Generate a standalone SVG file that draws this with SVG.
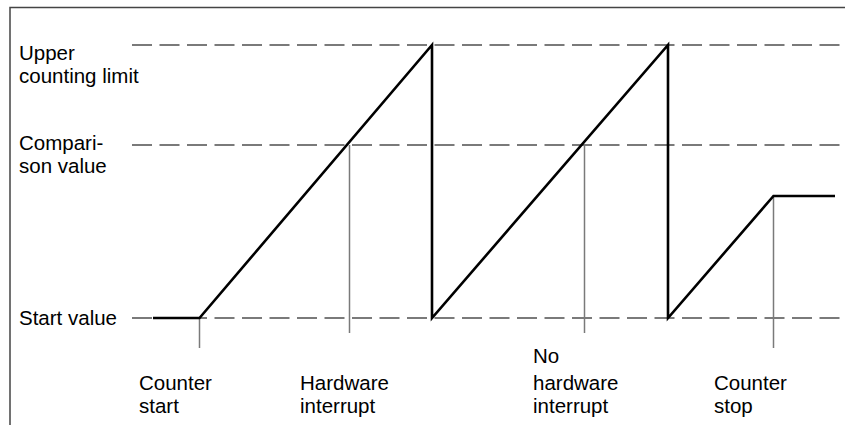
<svg xmlns="http://www.w3.org/2000/svg" width="845" height="425" viewBox="0 0 845 425">
<style>
.frame{stroke:#444;stroke-width:1.5;fill:none}
.dash{stroke:#7a7a7a;stroke-width:2;stroke-dasharray:20 7.5;fill:none}
.tick{stroke:#7a7a7a;stroke-width:1.5;fill:none}
.curve{stroke:#000;stroke-width:2.6;fill:none;stroke-linejoin:miter}
text{font-family:"Liberation Sans",Arial,sans-serif;font-size:20.5px;fill:#000}
</style>
<rect width="845" height="425" fill="#fff"/>
<g id="frame"><path class="frame" d="M10,425 V7.5 H845"/></g>
<g id="levels">
<line class="dash" x1="132" y1="45" x2="840" y2="45"/>
<line class="dash" x1="132" y1="145" x2="840" y2="145"/>
<line class="dash" x1="132" y1="318" x2="840" y2="318"/>
</g>
<g id="ticks">
<line class="tick" x1="199.5" y1="318" x2="199.5" y2="348"/>
<line class="tick" x1="349.5" y1="145" x2="349.5" y2="333"/>
<line class="tick" x1="584.5" y1="145" x2="584.5" y2="333"/>
<line class="tick" x1="773.5" y1="196" x2="773.5" y2="348"/>
</g>
<g id="counter-curve"><path class="curve" d="M153,318 H199.5 L432,45 V318 L668,45 V318 L773.5,196 H835"/></g>
<g id="label-upper"><text x="19" y="60">Upper</text><text x="19" y="83">counting limit</text></g>
<g id="label-comparison"><text x="19" y="150">Compari-</text><text x="19" y="173">son value</text></g>
<g id="label-start"><text x="19" y="325">Start value</text></g>
<g id="label-counter-start"><text x="139" y="390">Counter</text><text x="139" y="413">start</text></g>
<g id="label-hw"><text x="300" y="390">Hardware</text><text x="300" y="413">interrupt</text></g>
<g id="label-nohw"><text x="533" y="363">No</text><text x="533" y="390">hardware</text><text x="533" y="413">interrupt</text></g>
<g id="label-counter-stop"><text x="714" y="390">Counter</text><text x="714" y="413">stop</text></g>
</svg>
